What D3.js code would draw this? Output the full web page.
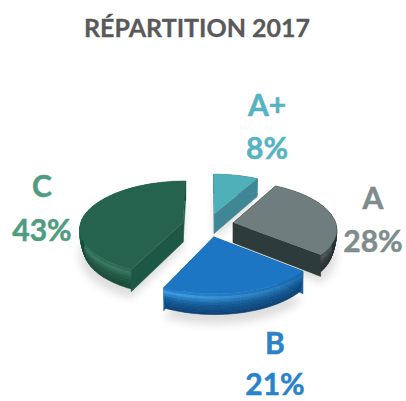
<!DOCTYPE html>
<html><head><meta charset="utf-8">
<script src="https://cdnjs.cloudflare.com/ajax/libs/d3/7.8.5/d3.min.js"></script>
<style>html,body{margin:0;padding:0;background:#fff}svg{display:block}text{font-family:Lato,"Open Sans",sans-serif;font-weight:700}</style>
</head><body><svg id="c" width="406" height="401"></svg>
<script>
const categories = ["A+","A","B","C"];
const values = [8,28,21,43];
const percentLabels = ["8%","28%","21%","43%"];
const topColors = ["#4fb0ba","#6f7d7f","#1b76c4","#27634f"];
const wallColors = ["#3f8796","#2f3a3b","#14609f","#1f5844"];
const wallDark = ["#357a88","#262f30","#0c3f70","#174736"];
const rimColors = ["#6cc4cc","#939fa1","#3f9fe8","#37785f"];
const labelColors = ["#55b4c2","#7e8c8d","#2a82c8","#4f9c80"];
const labelX = [267,373,275,42];
const labelY = [116,209,354,197];
const percentY = [159,252,395,241];
const title = "RÉPARTITION 2017";

const cx=208, cy=225, Rx=103, Ry=47, k=0.12, depth=20, explode=0.25, bands=8, lightAngle=3.9;
const svg=d3.select("#c");
const defs=svg.append("defs");
defs.append("filter").attr("id","soft").append("feGaussianBlur").attr("stdDeviation",0.7);
defs.append("filter").attr("id","shadow").attr("x","-20%").attr("y","-20%").attr("width","140%").attr("height","140%").append("feGaussianBlur").attr("stdDeviation",4);

const proj=(u,v,z)=>{const s=1/(1+k*v);return [cx+Rx*u*s, cy-Ry*v*s+z*s];};
const arcs=d3.pie().sort(null).value(d=>d)(values);
const line=d3.line();
const slices=arcs.map((a,i)=>{
  const mid=(a.startAngle+a.endAngle)/2;
  const ou=explode*Math.sin(mid), ov=explode*Math.cos(mid);
  const ts=d3.range(0,37).map(t=>a.startAngle+(a.endAngle-a.startAngle)*t/36);
  return {i,ou,ov,ts};
});
const rAt=f=>1-0.04*f*f;
const rim=(s,t,f)=>[s.ou+rAt(f)*Math.sin(t),s.ov+rAt(f)*Math.cos(t)];
const P=(p,z)=>proj(p[0],p[1],z);
const g=svg.append("g");
slices.forEach(s=>{
  const pts=[[s.ou,s.ov],...s.ts.map(t=>rim(s,t,0))].map(p=>P(p,depth+6));
  g.append("path").attr("d",line(pts)+"Z").attr("fill","#000").attr("opacity",0.13).attr("filter","url(#shadow)");
});
const m=g.append("g").attr("filter","url(#soft)");
[0,3,1,2].forEach(i=>{
  const s=slices[i], n=s.ts.length-1;
  const apex=[s.ou,s.ov];
  const parts=[];
  [s.ts[0],s.ts[n]].forEach(t=>{
    const b=rim(s,t,0);
    parts.push({v:(apex[1]+b[1])/2,draw(){
      const pts=[P(apex,0),P(b,0),P(b,depth),P(apex,depth)];
      m.append("path").attr("d",line(pts)+"Z").attr("fill",wallColors[i]).attr("stroke",wallColors[i]).attr("stroke-width",0.5);
    }});
  });
  parts.push({v:d3.mean(s.ts,t=>rim(s,t,0)[1]),draw(){
    const base=d3.scaleLinear().domain([0,1]).range([wallColors[i],wallDark[i]]);
    const ramp=d3.scaleLinear().domain([0,0.18,0.5,1]).range([topColors[i],rimColors[i],wallColors[i],wallDark[i]]);
    d3.range(bands).forEach(b=>{
      const f0=b/bands,f1=(b+1)/bands,fm=(f0+f1)/2;
      d3.range(n).forEach(j=>{
        const t0=s.ts[j],t1=s.ts[j+1];
        const w=0.5+0.5*Math.cos((t0+t1)/2-lightAngle);
        const col=d3.interpolateRgb(base(fm),ramp(fm))(0.1+0.9*w*w);
        const q=[P(rim(s,t0,f0),f0*depth),P(rim(s,t1,f0),f0*depth),P(rim(s,t1,f1),f1*depth),P(rim(s,t0,f1),f1*depth)];
        m.append("path").attr("d",line(q)+"Z").attr("fill",col).attr("stroke",col).attr("stroke-width",0.6);
      });
    });
  }});
  parts.sort((a,b)=>b.v-a.v).forEach(p=>p.draw());
  const top=[P(apex,0),...s.ts.map(t=>P(rim(s,t,0),0))];
  m.append("path").attr("d",line(top)+"Z").attr("fill",topColors[i]);
});
svg.append("text").attr("x",197).attr("y",37).attr("text-anchor","middle").attr("font-size",25).attr("fill","#595959").attr("stroke","#595959").attr("stroke-width",0.3).text(title);
categories.forEach((c,i)=>{
  [[c,labelY[i]],[percentLabels[i],percentY[i]]].forEach(([t,y])=>{
    svg.append("text").attr("x",labelX[i]).attr("y",y).attr("text-anchor","middle").attr("font-size",30).attr("fill",labelColors[i]).attr("stroke",labelColors[i]).attr("stroke-width",0.5).text(t);
  });
});
</script></body></html>
